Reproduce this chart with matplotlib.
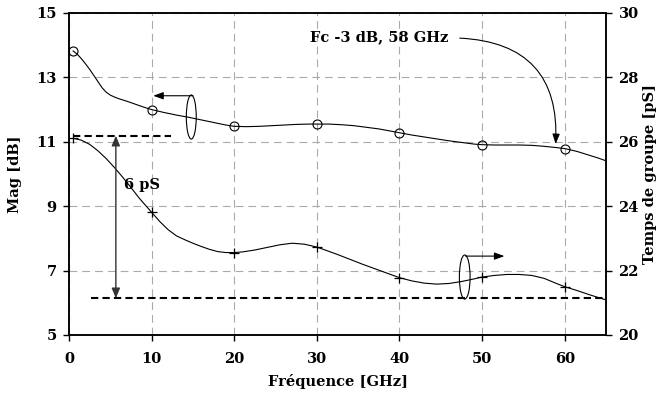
import matplotlib.pyplot as plt
from matplotlib.patches import Ellipse

# traced curves
freq = [0.5, 1, 1.5, 2, 2.5, 3, 3.5, 4, 4.5, 5, 5.5, 6, 7, 8, 9, 10, 11.5, 13, 14.5, 16,
        17.5, 19, 20, 21.5, 23, 24.5, 26, 27.5, 29, 30, 31.5, 33, 34.5, 36, 37.5, 39,
        40, 41.5, 43, 44.5, 46, 47.5, 49, 50, 51.5, 53, 54.5, 56, 57.5, 59, 60, 61.5,
        63, 64, 65]
mag = [13.82, 13.72, 13.58, 13.42, 13.25, 13.06, 12.87, 12.68, 12.54, 12.45, 12.39,
       12.34, 12.26, 12.17, 12.08, 12.0, 11.91, 11.83, 11.76, 11.68, 11.6, 11.52, 11.48,
       11.47, 11.48, 11.5, 11.52, 11.54, 11.55, 11.55, 11.55, 11.53, 11.5, 11.45, 11.4,
       11.33, 11.28, 11.21, 11.15, 11.09, 11.03, 10.98, 10.93, 10.91, 10.9, 10.9, 10.9,
       10.89, 10.86, 10.82, 10.79, 10.7, 10.58, 10.5, 10.41]
freq_gd = [0.5, 1.5, 2.5, 3.5, 4.5, 5.5, 6.5, 7.5, 8.5, 10, 11, 12, 13, 14, 15, 16, 17,
           18, 19, 20, 21, 22.5, 24, 25.5, 27, 28.5, 30, 31, 32.5, 34, 35.5, 37, 38.5,
           40, 41.5, 43, 44.5, 46, 47.5, 49, 50, 51.5, 53, 54.5, 56, 57.5, 59, 60, 61.5,
           63, 64, 65]
gd = [26.11, 26.05, 25.92, 25.72, 25.48, 25.2, 24.9, 24.58, 24.25, 23.81, 23.52, 23.27,
      23.08, 22.96, 22.85, 22.75, 22.66, 22.59, 22.56, 22.56, 22.58, 22.64, 22.72, 22.8,
      22.85, 22.82, 22.73, 22.64, 22.5, 22.35, 22.2, 22.06, 21.92, 21.78, 21.68, 21.61,
      21.58, 21.6, 21.66, 21.74, 21.8, 21.85, 21.88, 21.88, 21.85, 21.76, 21.6, 21.5,
      21.38, 21.25, 21.17, 21.09]

# marker points
mk_freq = [0.5, 10, 20, 30, 40, 50, 60]
mk_mag = [13.82, 12.0, 11.48, 11.55, 11.28, 10.91, 10.79]
mk_gd = [26.11, 23.81, 22.56, 22.73, 21.78, 21.8, 21.5]

gd_max = 26.19
gd_min = 21.14

font = 'DejaVu Serif'
plt.rcParams['font.family'] = font
plt.rcParams['font.weight'] = 'bold'

fig = plt.figure(figsize=(6.61, 4.01), dpi=100)
ax = fig.add_axes([0.1044, 0.1646, 0.8124, 0.803])
ax2 = ax.twinx()

ax.plot(freq, mag, color='black', lw=0.8)
ax.plot(mk_freq, mk_mag, 'o', mfc='none', mec='black', ms=6.5, mew=0.8)
ax2.plot(freq_gd, gd, color='black', lw=0.8)
ax2.plot(mk_freq, mk_gd, '+', color='black', ms=7, mew=0.9)

ax.set_xlim(0, 65)
ax.set_ylim(5, 15)
ax2.set_ylim(20, 30)
ax.set_xticks(range(0, 70, 10))
ax.set_yticks(range(5, 16, 2))
ax2.set_yticks(range(20, 31, 2))
ax.grid(True, color='#aaaaaa', lw=0.8, ls=(0, (7, 4.5)))
for a in (ax, ax2):
    a.tick_params(direction='out', length=4, width=1, labelsize=10.5, pad=5)
    for s in a.spines.values():
        s.set_linewidth(1.1)
ax.tick_params(axis='x', pad=8)

ax.set_xlabel('Fréquence [GHz]', fontsize=10.5, fontweight='bold', labelpad=6)
ax.set_ylabel('Mag [dB]', fontsize=10.5, fontweight='bold', labelpad=10)
ax2.set_ylabel('Temps de groupe [pS]', fontsize=10.5, fontweight='bold', labelpad=3)

# reference dashed lines and 6 pS span
ax2.plot([0.5, 12.3], [gd_max, gd_max], color='black', lw=1.5, ls=(0, (3.5, 2)))
ax2.plot([2.7, 65], [gd_min, gd_min], color='black', lw=1.5, ls=(0, (3.5, 2)))
ax2.annotate('', xy=(5.67, gd_max), xytext=(5.67, gd_min),
             arrowprops=dict(arrowstyle='<|-|>,head_length=0.6,head_width=0.25',
                             color='#333333', lw=1.0, shrinkA=0, shrinkB=0))
ax.text(6.6, 9.66, '6 pS', fontsize=10.5, fontweight='bold', ha='left', va='center')

# axis markers (ellipse + arrow)
ax.add_patch(Ellipse((14.8, 11.77), 1.2, 1.37, fill=False, ec='black', lw=0.8))
ax.annotate('', xy=(10.2, 12.43), xytext=(15.0, 12.43),
            arrowprops=dict(arrowstyle='-|>,head_length=0.6,head_width=0.22',
                            color='black', lw=0.8, shrinkA=0, shrinkB=0))
ax2.add_patch(Ellipse((47.9, 21.8), 1.3, 1.37, fill=False, ec='black', lw=0.8))
ax2.annotate('', xy=(52.7, 22.45), xytext=(48.0, 22.45),
             arrowprops=dict(arrowstyle='-|>,head_length=0.6,head_width=0.22',
                             color='black', lw=0.8, shrinkA=0, shrinkB=0))

# cutoff annotation
ax.text(45.9, 14.25, 'Fc -3 dB, 58 GHz', fontsize=10.5, fontweight='bold',
        ha='right', va='center')
ax.annotate('', xy=(58.9, 10.93), xytext=(47.3, 14.22),
            arrowprops=dict(arrowstyle='-|>,head_length=0.6,head_width=0.22',
                            color='black', lw=0.8, shrinkA=0, shrinkB=0,
                            connectionstyle='arc3,rad=-0.5'))

fig.savefig('out.png', dpi=100)
